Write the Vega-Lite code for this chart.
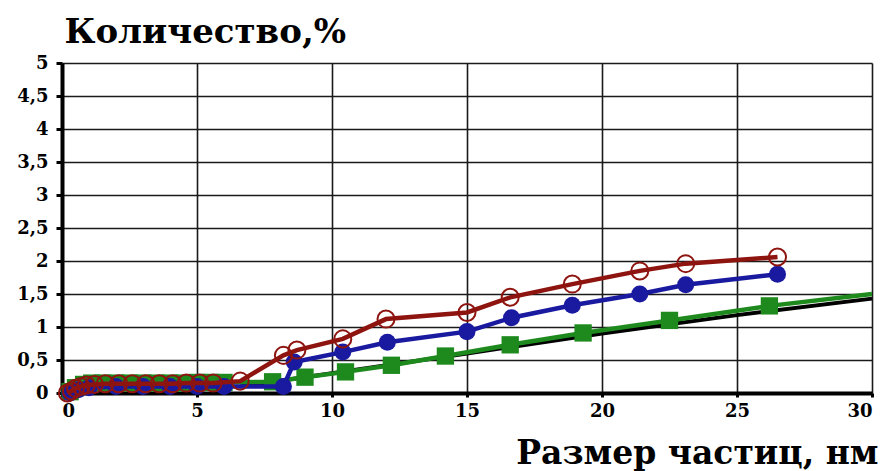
{
  "$schema": "https://vega.github.io/schema/vega-lite/v6.json",
  "width": 810,
  "height": 330,
  "autosize": {"type": "none"},
  "padding": {"left": 62, "top": 63, "right": 10, "bottom": 78},
  "background": "white",
  "config": {"view": {"stroke": null}},
  "datasets": {
    "pts": [
      {"s": "black", "x": 6.6, "y": 0.1},
      {"s": "black", "x": 10, "y": 0.3},
      {"s": "black", "x": 15, "y": 0.6},
      {"s": "black", "x": 20, "y": 0.9},
      {"s": "black", "x": 25, "y": 1.18},
      {"s": "black", "x": 30, "y": 1.43},

      {"s": "green", "x": 0.3, "y": 0.02},
      {"s": "green", "x": 0.5, "y": 0.08},
      {"s": "green", "x": 0.8, "y": 0.13},
      {"s": "green", "x": 1.1, "y": 0.15},
      {"s": "green", "x": 1.5, "y": 0.15},
      {"s": "green", "x": 2.0, "y": 0.15},
      {"s": "green", "x": 2.5, "y": 0.15},
      {"s": "green", "x": 3.0, "y": 0.15},
      {"s": "green", "x": 3.5, "y": 0.15},
      {"s": "green", "x": 4.0, "y": 0.15},
      {"s": "green", "x": 4.5, "y": 0.15},
      {"s": "green", "x": 5.0, "y": 0.16},
      {"s": "green", "x": 5.5, "y": 0.16},
      {"s": "green", "x": 6.0, "y": 0.16},
      {"s": "green", "x": 7.8, "y": 0.17},
      {"s": "green", "x": 9.0, "y": 0.24},
      {"s": "green", "x": 10.5, "y": 0.32},
      {"s": "green", "x": 12.2, "y": 0.42},
      {"s": "green", "x": 14.2, "y": 0.56},
      {"s": "green", "x": 16.6, "y": 0.73},
      {"s": "green", "x": 19.3, "y": 0.91},
      {"s": "green", "x": 22.5, "y": 1.1},
      {"s": "green", "x": 26.2, "y": 1.32},
      {"s": "green", "x": 30, "y": 1.5},

      {"s": "blue", "x": 0.3, "y": 0.0},
      {"s": "blue", "x": 0.6, "y": 0.05},
      {"s": "blue", "x": 1.0, "y": 0.08},
      {"s": "blue", "x": 2.0, "y": 0.1},
      {"s": "blue", "x": 3.0, "y": 0.1},
      {"s": "blue", "x": 4.0, "y": 0.1},
      {"s": "blue", "x": 5.0, "y": 0.1},
      {"s": "blue", "x": 6.0, "y": 0.1},
      {"s": "blue", "x": 8.2, "y": 0.1},
      {"s": "blue", "x": 8.6, "y": 0.47},
      {"s": "blue", "x": 10.4, "y": 0.62},
      {"s": "blue", "x": 12.05, "y": 0.77},
      {"s": "blue", "x": 15.0, "y": 0.93},
      {"s": "blue", "x": 16.65, "y": 1.14},
      {"s": "blue", "x": 18.9, "y": 1.33},
      {"s": "blue", "x": 21.4, "y": 1.5},
      {"s": "blue", "x": 23.1, "y": 1.64},
      {"s": "blue", "x": 26.5, "y": 1.8},

      {"s": "red", "x": 0.2, "y": 0.0},
      {"s": "red", "x": 0.35, "y": 0.03},
      {"s": "red", "x": 0.5, "y": 0.07},
      {"s": "red", "x": 0.7, "y": 0.1},
      {"s": "red", "x": 0.9, "y": 0.12},
      {"s": "red", "x": 1.2, "y": 0.13},
      {"s": "red", "x": 1.6, "y": 0.14},
      {"s": "red", "x": 2.1, "y": 0.14},
      {"s": "red", "x": 2.6, "y": 0.14},
      {"s": "red", "x": 3.1, "y": 0.14},
      {"s": "red", "x": 3.6, "y": 0.14},
      {"s": "red", "x": 4.1, "y": 0.14},
      {"s": "red", "x": 4.6, "y": 0.15},
      {"s": "red", "x": 5.1, "y": 0.15},
      {"s": "red", "x": 5.6, "y": 0.15},
      {"s": "red", "x": 6.6, "y": 0.18},
      {"s": "red", "x": 8.2, "y": 0.57},
      {"s": "red", "x": 8.7, "y": 0.65},
      {"s": "red", "x": 10.4, "y": 0.82},
      {"s": "red", "x": 12.0, "y": 1.12},
      {"s": "red", "x": 15.0, "y": 1.22},
      {"s": "red", "x": 16.6, "y": 1.45},
      {"s": "red", "x": 18.9, "y": 1.65},
      {"s": "red", "x": 21.4, "y": 1.85},
      {"s": "red", "x": 23.1, "y": 1.96},
      {"s": "red", "x": 26.5, "y": 2.06}
    ]
  },
  "data": {"name": "pts"},
  "encoding": {
    "x": {
      "field": "x", "type": "quantitative",
      "scale": {"domain": [0, 30], "nice": false},
      "axis": {
        "values": [0, 5, 10, 15, 20, 25, 30],
        "title": "Размер частиц, нм",
        "titleFont": "DejaVu Serif, Liberation Serif, serif", "titleFontSize": 33, "titleFontWeight": "bold",
        "titleColor": "black", "titleAlign": "right", "titleAnchor": null,
        "titleX": 816, "titleY": 70, "titleBaseline": "alphabetic",
        "labelFont": "DejaVu Serif, Liberation Serif, serif", "labelFontSize": 18, "labelFontWeight": "bold",
        "labelColor": "black", "labelPadding": 5,
        "domainColor": "black", "domainWidth": 4,
        "tickColor": "black", "tickWidth": 3, "tickSize": 4, "tickOffset": 0,
        "grid": true, "gridColor": "#1a1a1a", "gridWidth": 1.6
      }
    },
    "y": {
      "field": "y", "type": "quantitative",
      "scale": {"domain": [0, 5], "nice": false},
      "axis": {
        "values": [0, 0.5, 1, 1.5, 2, 2.5, 3, 3.5, 4, 4.5, 5],
        "labelExpr": "replace(format(datum.value, ''), '.', ',')",
        "title": "Количество,%",
        "titleFont": "DejaVu Serif, Liberation Serif, serif", "titleFontSize": 34, "titleFontWeight": "bold",
        "titleColor": "black", "titleAngle": 0, "titleAlign": "left", "titleAnchor": null,
        "titleX": 2, "titleY": -21, "titleBaseline": "alphabetic",
        "labelFont": "DejaVu Serif, Liberation Serif, serif", "labelFontSize": 18, "labelFontWeight": "bold",
        "labelColor": "black", "labelPadding": 8,
        "domainColor": "black", "domainWidth": 4,
        "tickColor": "black", "tickWidth": 3, "tickSize": 6,
        "grid": true, "gridColor": "#1a1a1a", "gridWidth": 1.6
      }
    },
    "color": {
      "field": "s", "type": "nominal",
      "scale": {"domain": ["black", "green", "blue", "red"], "range": ["#000000", "#1e8a1e", "#1a1aa0", "#8e1410"]},
      "legend": null
    }
  },
  "layer": [
    {"transform": [{"filter": "datum.s == 'black'"}], "mark": {"type": "line", "strokeWidth": 4}},
    {"transform": [{"filter": "datum.s == 'green'"}], "mark": {"type": "line", "strokeWidth": 4.5}},
    {"transform": [{"filter": "datum.s == 'green' && datum.x < 29"}], "mark": {"type": "point", "shape": "square", "filled": true, "size": 300, "opacity": 1}},
    {"transform": [{"filter": "datum.s == 'blue'"}], "mark": {"type": "line", "strokeWidth": 4.5}},
    {"transform": [{"filter": "datum.s == 'blue'"}], "mark": {"type": "point", "shape": "circle", "filled": true, "size": 290, "opacity": 1}},
    {"transform": [{"filter": "datum.s == 'red'"}], "mark": {"type": "line", "strokeWidth": 4.5}},
    {"transform": [{"filter": "datum.s == 'red'"}], "mark": {"type": "point", "shape": "circle", "filled": false, "size": 290, "strokeWidth": 2, "opacity": 1}}
  ]
}
